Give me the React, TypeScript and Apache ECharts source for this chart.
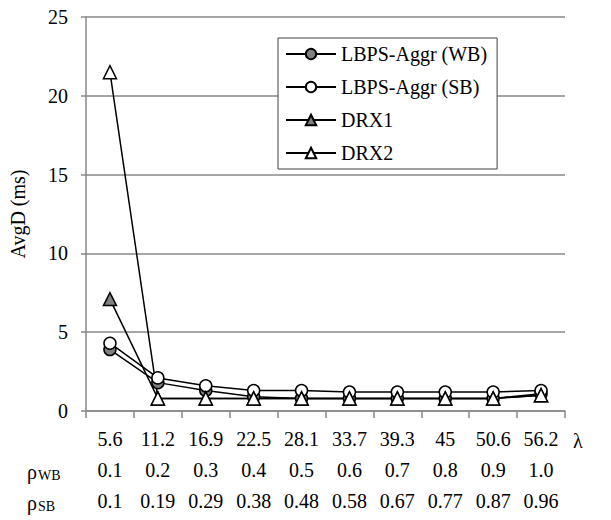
import React, { useEffect, useRef } from "react";
import * as echarts from "echarts";

const lambdaLabels = ["5.6", "11.2", "16.9", "22.5", "28.1", "33.7", "39.3", "45", "50.6", "56.2"];
const rhoWBLabels = ["0.1", "0.2", "0.3", "0.4", "0.5", "0.6", "0.7", "0.8", "0.9", "1.0"];
const rhoSBLabels = ["0.1", "0.19", "0.29", "0.38", "0.48", "0.58", "0.67", "0.77", "0.87", "0.96"];

const lbpsWB = [3.9, 1.8, 1.3, 0.9, 0.8, 0.8, 0.8, 0.8, 0.8, 1.1];
const lbpsSB = [4.3, 2.1, 1.6, 1.3, 1.3, 1.2, 1.2, 1.2, 1.2, 1.3];
const drx1 = [7.1, 0.8, 0.8, 0.8, 0.8, 0.8, 0.8, 0.8, 0.8, 1.0];
const drx2 = [21.5, 0.8, 0.8, 0.8, 0.8, 0.8, 0.8, 0.8, 0.8, 1.0];

const FONT = "'Liberation Serif', 'Times New Roman', serif";
const FS = 20;

export default function App() {
  const ref = useRef<HTMLDivElement>(null);
  useEffect(() => {
    if (!ref.current) return;
    const chart = echarts.init(ref.current, null, { renderer: "svg" });
    const mkSeries = (name: string, data: number[], symbol: string, fill: string, size: number) => ({
      name,
      type: "line",
      data,
      symbol,
      symbolSize: size,
      showSymbol: true,
      lineStyle: { color: "#000", width: 1.5 },
      itemStyle: { color: fill, borderColor: "#000", borderWidth: 1.5 },
      emphasis: { disabled: true },
    });
    const hiddenAxis = (data: string[], offset: number) => ({
      type: "category",
      data,
      position: "bottom",
      offset,
      axisLine: { show: false },
      axisTick: { show: false },
      splitLine: { show: false },
      axisLabel: { margin: 18, fontFamily: FONT, fontSize: FS, color: "#000" },
    });
    chart.setOption({
      animation: false,
      backgroundColor: "#fff",
      textStyle: { fontFamily: FONT },
      grid: { left: 82, right: 46, top: 17, bottom: 109, containLabel: false },
      legend: {
        left: 278,
        top: 38,
        orient: "vertical",
        backgroundColor: "#fff",
        borderColor: "#404040",
        borderWidth: 1,
        padding: [6, 10, 6, 7],
        itemWidth: 50,
        itemHeight: 13,
        itemGap: 13,
        textStyle: { fontFamily: FONT, fontSize: FS, color: "#000" },
        data: ["LBPS-Aggr (WB)", "LBPS-Aggr (SB)", "DRX1", "DRX2"],
      },
      xAxis: [
        {
          type: "category",
          data: lambdaLabels,
          boundaryGap: true,
          axisLine: { show: true, lineStyle: { color: "#898989", width: 1.5 } },
          axisTick: { show: true, inside: false, length: 7, lineStyle: { color: "#898989", width: 1.5 } },
          splitLine: { show: false },
          axisLabel: { margin: 18, fontFamily: FONT, fontSize: FS, color: "#000" },
        },
        hiddenAxis(rhoWBLabels, 31),
        hiddenAxis(rhoSBLabels, 62),
      ],
      yAxis: {
        type: "value",
        min: 0,
        max: 25,
        interval: 5,
        name: "AvgD (ms)",
        nameLocation: "middle",
        nameGap: 58,
        nameRotate: 90,
        nameTextStyle: { fontFamily: FONT, fontSize: FS, color: "#000" },
        axisLine: { show: true, lineStyle: { color: "#898989", width: 1.5 } },
        axisTick: { show: true, length: 5, lineStyle: { color: "#898989", width: 1.5 } },
        splitLine: { show: true, lineStyle: { color: "#898989", width: 1.5 } },
        axisLabel: { margin: 18, fontFamily: FONT, fontSize: FS, color: "#000" },
      },
      graphic: [
        {
          type: "text",
          left: 573,
          top: 431,
          style: { text: "λ", fontFamily: FONT, fontSize: FS, fill: "#000" },
        },
        {
          type: "text",
          left: 27,
          top: 462,
          style: {
            text: "{a|ρ}{b|WB}",
            rich: {
              a: { fontFamily: FONT, fontSize: FS, fill: "#000" },
              b: { fontFamily: FONT, fontSize: 14, fill: "#000", verticalAlign: "bottom", padding: [6, 0, 0, 1] },
            },
          },
        },
        {
          type: "text",
          left: 27,
          top: 493,
          style: {
            text: "{a|ρ}{b|SB}",
            rich: {
              a: { fontFamily: FONT, fontSize: FS, fill: "#000" },
              b: { fontFamily: FONT, fontSize: 14, fill: "#000", verticalAlign: "bottom", padding: [6, 0, 0, 1] },
            },
          },
        },
      ],
      series: [
        mkSeries("LBPS-Aggr (WB)", lbpsWB, "circle", "#808080", 12),
        mkSeries("LBPS-Aggr (SB)", lbpsSB, "circle", "#fff", 12),
        mkSeries("DRX1", drx1, "triangle", "#808080", 13),
        mkSeries("DRX2", drx2, "triangle", "#fff", 13),
      ],
    });
    return () => chart.dispose();
  }, []);
  return (
    <div
      ref={ref}
      style={{ position: "absolute", left: 0, top: 0, width: 611, height: 520 }}
    />
  );
}
